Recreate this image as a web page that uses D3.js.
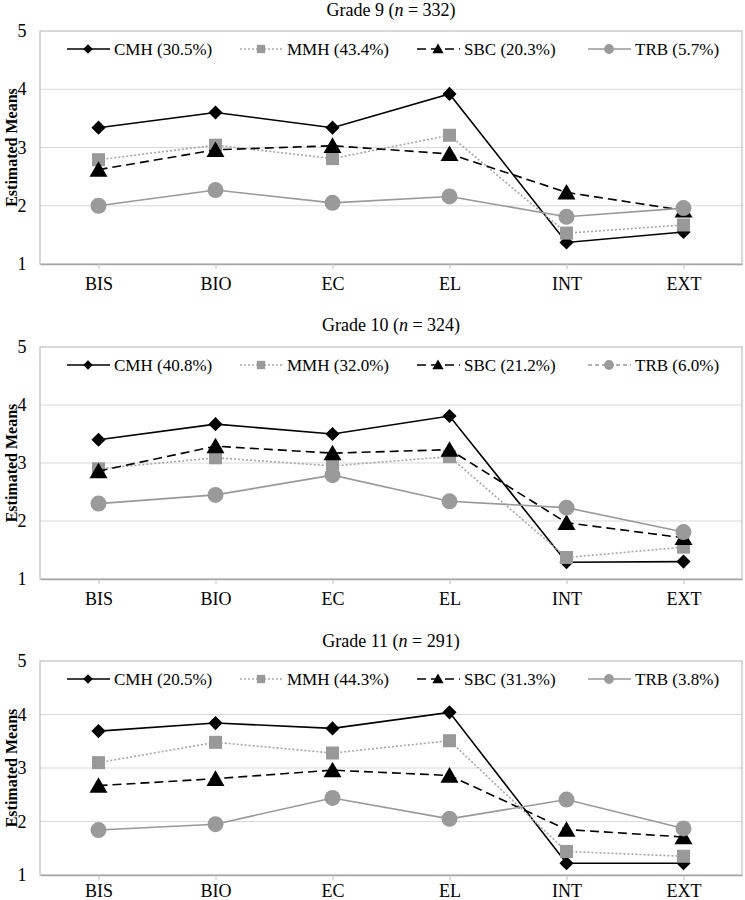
<!DOCTYPE html>
<html><head><meta charset="utf-8">
<script src="https://cdn.jsdelivr.net/npm/d3@7"></script>
<style>body{margin:0;background:#fff}svg{display:block}</style>
</head><body>
<svg id="c" width="745" height="900"></svg>
<script>
const categories = ["BIS","BIO","EC","EL","INT","EXT"];
const yTicks = [1,2,3,4,5];
const seriesNames = ["CMH","MMH","SBC","TRB"];
const gradeTitles = ["Grade 9","Grade 10","Grade 11"];
const gradeN = [332,324,291];
const g9Pct = ["30.5%","43.4%","20.3%","5.7%"];
const g10Pct = ["40.8%","32.0%","21.2%","6.0%"];
const g11Pct = ["20.5%","44.3%","31.3%","3.8%"];
const g9CMH = [3.34,3.60,3.34,3.92,1.37,1.55];
const g9MMH = [2.79,3.04,2.81,3.21,1.53,1.67];
const g9SBC = [2.62,2.96,3.03,2.89,2.23,1.92];
const g9TRB = [2.00,2.27,2.05,2.16,1.81,1.96];
const g10CMH = [3.40,3.67,3.50,3.81,1.29,1.30];
const g10MMH = [2.90,3.09,2.95,3.11,1.37,1.55];
const g10SBC = [2.86,3.29,3.17,3.23,1.97,1.71];
const g10TRB = [2.30,2.45,2.79,2.34,2.23,1.81];
const g11CMH = [3.69,3.84,3.74,4.04,1.22,1.22];
const g11MMH = [3.10,3.48,3.28,3.51,1.44,1.35];
const g11SBC = [2.67,2.80,2.96,2.86,1.85,1.71];
const g11TRB = [1.84,1.95,2.44,2.05,2.41,1.87];

const panelsData = [
  {title: gradeTitles[0], n: gradeN[0], pct: g9Pct, vals: [g9CMH,g9MMH,g9SBC,g9TRB], top:31, bottom:264, titleY:16, pad:8, legendTRBDash:false},
  {title: gradeTitles[1], n: gradeN[1], pct: g10Pct, vals: [g10CMH,g10MMH,g10SBC,g10TRB], top:347, bottom:579, titleY:331, pad:8, legendTRBDash:true},
  {title: gradeTitles[2], n: gradeN[2], pct: g11Pct, vals: [g11CMH,g11MMH,g11SBC,g11TRB], top:661, bottom:875, titleY:647, pad:4, legendTRBDash:false}
];

const styles = [
  {stroke:"#000", dash:null, fill:"#000", sym:d3.symbolSquare, rot:45, size:100, lsize:45},
  {stroke:"#a6a6a6", dash:"2,2", fill:"#999", sym:d3.symbolSquare, rot:0, size:170, lsize:70},
  {stroke:"#000", dash:"9,5", fill:"#000", sym:d3.symbolTriangle, rot:0, size:140, lsize:55},
  {stroke:"#999", dash:null, fill:"#9a9a9a", sym:d3.symbolCircle, rot:0, size:200, lsize:75}
];

const FONT = '"Liberation Serif", "Times New Roman", Tinos, Times';
const svg = d3.select("#c");
const L = 40, R = 742;
const x = d3.scalePoint().domain(categories).range([L,R]).padding(0.5);

panelsData.forEach(p => {
  const g = svg.append("g");
  const y = d3.scaleLinear().domain([1,5]).range([p.bottom,p.top]);
  const t = g.append("text").attr("x", 391).attr("y", p.titleY).attr("text-anchor","middle")
    .style("font-family",FONT).attr("font-size",18).attr("fill","#000");
  t.append("tspan").text(p.title + " (");
  t.append("tspan").attr("font-style","italic").text("n");
  t.append("tspan").text(" = " + p.n + ")");
  g.selectAll(".grid").data(yTicks.slice(1,4)).enter().append("line")
    .attr("x1",L).attr("x2",R).attr("y1",d=>y(d)).attr("y2",d=>y(d))
    .attr("stroke","#d9d9d9").attr("stroke-width",1);
  g.append("rect").attr("x",L).attr("y",p.top).attr("width",R-L).attr("height",p.bottom-p.top)
    .attr("fill","none").attr("stroke","#bfbfbf").attr("stroke-width",1.2);
  const xa = g.append("g").attr("transform",`translate(0,${p.bottom})`)
    .call(d3.axisBottom(x).tickSize(5).tickSizeOuter(0).tickPadding(p.pad));
  xa.select(".domain").attr("stroke","#a6a6a6").attr("stroke-width",1.5);
  xa.selectAll(".tick line").attr("stroke","#bfbfbf");
  xa.selectAll(".tick text").attr("font-size",18).attr("fill","#000").style("font-family",FONT);
  g.selectAll(".yl").data(yTicks).enter().append("text")
    .attr("x",22).attr("y",d=>y(d)+6).attr("text-anchor","middle")
    .style("font-family",FONT).attr("font-size",18).text(d=>d);
  g.append("text").attr("transform",`translate(17,${(p.top+p.bottom)/2}) rotate(-90)`)
    .attr("text-anchor","middle").style("font-family",FONT).attr("font-size",16).attr("font-weight","bold")
    .text("Estimated Means");
  p.vals.forEach((vals,i) => {
    const st = styles[i];
    const pts = categories.map((c,j)=>[x(c), y(vals[j])]);
    g.append("path").attr("d", d3.line()(pts)).attr("fill","none")
      .attr("stroke",st.stroke).attr("stroke-width",1.6)
      .attr("stroke-dasharray",st.dash);
    g.selectAll(null).data(pts).enter().append("path")
      .attr("d", d3.symbol().type(st.sym).size(st.size))
      .attr("transform",d=>`translate(${d[0]},${d[1] + (i===2?2:0)}) rotate(${st.rot})`)
      .attr("fill",st.fill);
  });
  const ly = p.top + 18;
  const lx = [67, 240, 417, 588];
  seriesNames.forEach((nm,i)=>{
    const st = styles[i];
    const dash = (i===3 && p.legendTRBDash) ? "4,3" : st.dash;
    g.append("line").attr("x1",lx[i]).attr("x2",lx[i]+43).attr("y1",ly).attr("y2",ly)
      .attr("stroke",st.stroke).attr("stroke-width",1.6).attr("stroke-dasharray",dash);
    g.append("path").attr("d", d3.symbol().type(st.sym).size(st.lsize))
      .attr("transform",`translate(${lx[i]+21},${ly + (i===2?1:0)}) rotate(${st.rot})`).attr("fill",st.fill);
    g.append("text").attr("x",lx[i]+47).attr("y",ly+6)
      .style("font-family",FONT).attr("font-size",17).text(`${nm} (${p.pct[i]})`);
  });
});
</script>
</body></html>
